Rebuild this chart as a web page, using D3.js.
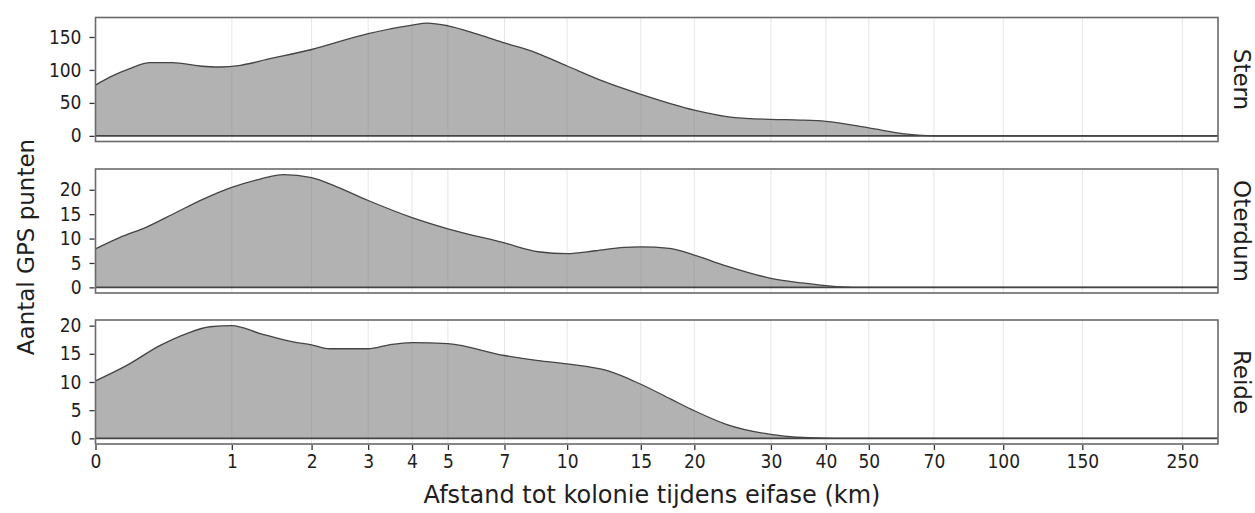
<!DOCTYPE html>
<html>
<head>
<meta charset="utf-8">
<script src="https://cdn.jsdelivr.net/npm/d3@7"></script>
<style>
  body { margin: 0; background: #fff; }
  svg text { font-family: "DejaVu Sans", sans-serif; fill: #1e1e1e; }
  svg .tick text { font-family: "DejaVu Sans Condensed", "DejaVu Sans", sans-serif; font-stretch: condensed; }
</style>
</head>
<body>
<svg width="1255" height="513"></svg>
<script>
// colonies (facets)
const colonies = ["Stern", "Oterdum", "Reide"];

// distance (km) / number of GPS points
const sternKm   = [0, 0.075, 0.19, 0.32, 0.48, 0.7, 0.88, 1.09, 1.39, 2, 3, 3.7, 4, 4.4, 5, 6, 7, 8.4, 10, 12.2, 15, 20, 24.5, 30, 35, 40, 50, 61, 70, 300];
const sternN    = [77, 89, 102, 111, 111, 106, 104.5, 107, 116, 131, 155, 165, 168, 171, 167, 154, 141, 126, 106, 83, 63, 39, 28, 25, 24, 22, 12, 2.5, 0, 0];

const oterdumKm = [0, 0.13, 0.3, 0.51, 0.73, 1, 1.31, 1.6, 2, 2.41, 3, 4, 5, 7, 8.5, 10, 11.7, 13.7, 15, 17.5, 20, 23.7, 30, 35.3, 40, 46, 300];
const oterdumN  = [7.9, 10.2, 12.4, 15.4, 18.1, 20.5, 22.2, 23.1, 22.5, 20.6, 17.8, 14.3, 12.0, 9.1, 7.3, 6.9, 7.5, 8.2, 8.3, 8.0, 6.6, 4.4, 1.85, 0.9, 0.35, 0, 0];

const reideKm   = [0, 0.17, 0.39, 0.59, 0.79, 1, 1.31, 1.73, 2, 2.29, 3, 3.45, 4, 5, 7, 8.5, 10, 12.5, 15, 17.6, 20, 23.7, 30, 34.3, 41.7, 300];
const reideN    = [10.2, 12.9, 16.5, 18.6, 19.8, 20.0, 18.6, 17.1, 16.6, 15.9, 15.9, 16.6, 17.0, 16.8, 14.7, 13.8, 13.2, 12.0, 9.6, 7.0, 4.9, 2.5, 0.7, 0.2, 0, 0];

// tick labels
const xTicks = [0, 1, 2, 3, 4, 5, 7, 10, 15, 20, 30, 40, 50, 70, 100, 150, 250];
const sternTicks = [0, 50, 100, 150];
const smallTicks = [0, 5, 10, 15, 20];

const xTitle = "Afstand tot kolonie tijdens eifase (km)";
const yTitle = "Aantal GPS punten";

const svg = d3.select("svg");

const left = 95.5, right = 1218;
const panelTop = [17.5, 169, 320];
const panelH = 124;

const x = d3.scaleSymlog().constant(1).domain([0, 300]).range([left, right]);

const panels = [
  {name: colonies[0], km: sternKm, n: sternN, ticks: sternTicks},
  {name: colonies[1], km: oterdumKm, n: oterdumN, ticks: smallTicks},
  {name: colonies[2], km: reideKm, n: reideN, ticks: smallTicks}
];

panels.forEach(function(p, i) {
  const top = panelTop[i], bottom = top + panelH;
  const maxN = d3.max(p.n);
  const y = d3.scaleLinear().domain([-0.05 * maxN, 1.05 * maxN]).range([bottom, top]);
  const pts = p.km.map((d, j) => [d, p.n[j]]);

  const g = svg.append("g");

  // vertical grid
  g.selectAll("line.grid").data(xTicks).enter().append("line")
    .attr("x1", d => x(d)).attr("x2", d => x(d))
    .attr("y1", top).attr("y2", bottom)
    .attr("stroke", "#e6e6e6").attr("stroke-width", 1);

  // density area
  const area = d3.area().x(d => x(d[0])).y0(y(0)).y1(d => y(d[1])).curve(d3.curveMonotoneX);
  g.append("path").datum(pts).attr("d", area)
    .attr("fill", "#7a7a7a").attr("fill-opacity", 0.58);

  const line = d3.line().x(d => x(d[0])).y(d => y(d[1])).curve(d3.curveMonotoneX);
  g.append("path").datum(pts).attr("d", line)
    .attr("fill", "none").attr("stroke", "#444").attr("stroke-width", 1.3);

  // zero line
  g.append("line").attr("x1", left).attr("x2", right).attr("y1", y(0)).attr("y2", y(0))
    .attr("stroke", "#444").attr("stroke-width", 1.6);

  // panel border
  g.append("rect").attr("x", left).attr("y", top).attr("width", right - left).attr("height", panelH)
    .attr("fill", "none").attr("stroke", "#6a6a6a").attr("stroke-width", 1.6);

  // y axis
  const yAxis = d3.axisLeft(y).tickValues(p.ticks).tickSize(5).tickPadding(8);
  const ya = svg.append("g").attr("transform", "translate(" + (left - 1) + ",0)").call(yAxis);
  ya.select(".domain").remove();
  ya.selectAll(".tick line").attr("stroke", "#333").attr("stroke-width", 1.3);
  ya.selectAll(".tick text").attr("font-size", 19).attr("fill", "#1e1e1e");

  // strip label
  svg.append("text")
    .attr("transform", "translate(1234," + (top + panelH / 2) + ") rotate(90)")
    .attr("text-anchor", "middle")
    .attr("font-size", 23)
    .text(p.name);
});

// x axis
const xAxis = d3.axisBottom(x).tickValues(xTicks).tickFormat(d3.format("d")).tickSize(5).tickPadding(5);
const xa = svg.append("g").attr("transform", "translate(0," + (panelTop[2] + panelH + 1) + ")").call(xAxis);
xa.select(".domain").remove();
xa.selectAll(".tick line").attr("stroke", "#333").attr("stroke-width", 1.3);
xa.selectAll(".tick text").attr("font-size", 19).attr("fill", "#1e1e1e");

svg.selectAll(".tick text").attr("font-family", null);

// titles
svg.append("text").attr("x", 652).attr("y", 503).attr("text-anchor", "middle")
  .attr("font-size", 24).text(xTitle);

svg.append("text").attr("transform", "translate(34,247) rotate(-90)")
  .attr("text-anchor", "middle").attr("font-size", 23).text(yTitle);
</script>
</body>
</html>
